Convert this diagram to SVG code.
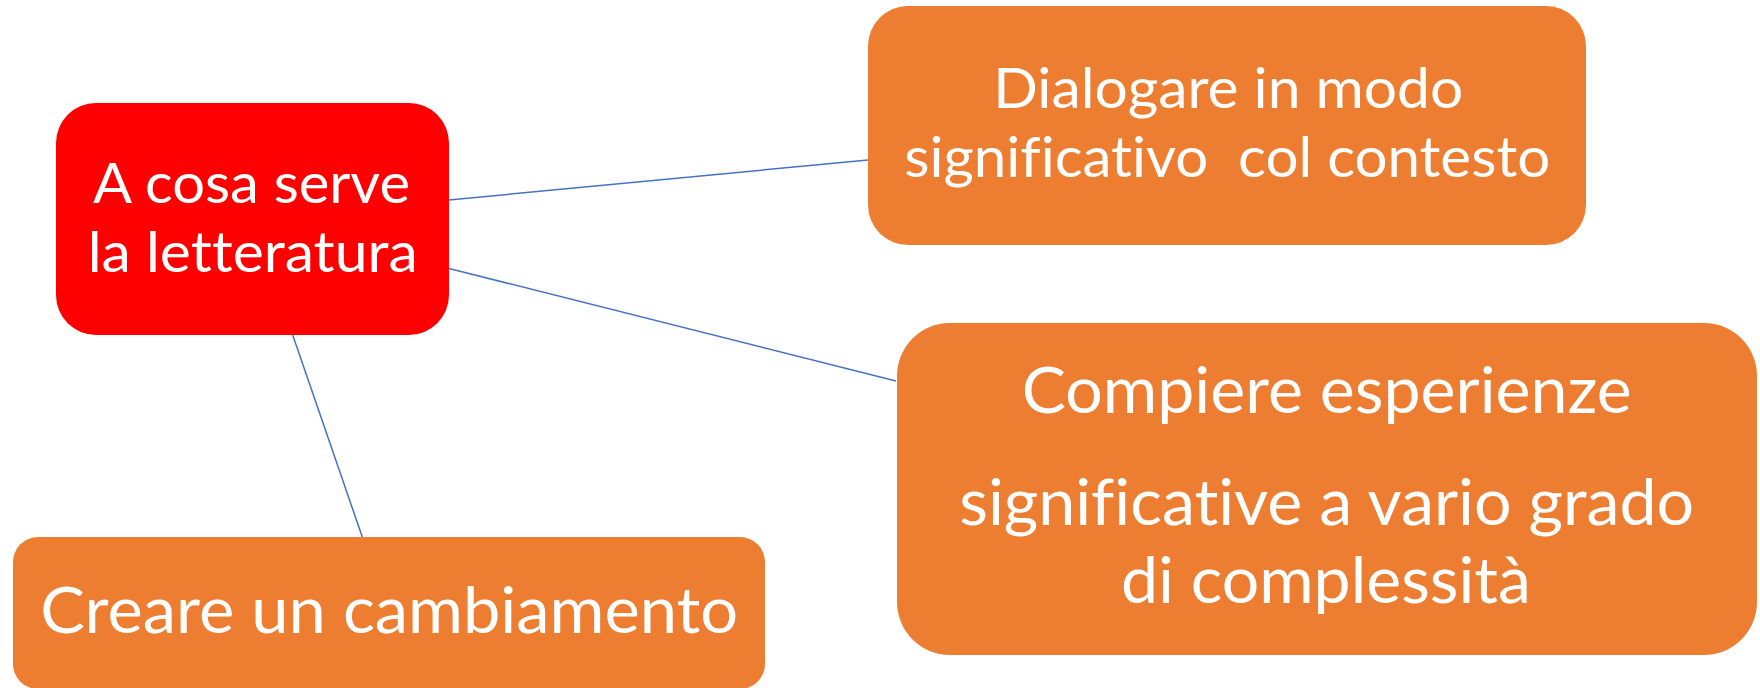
<svg xmlns="http://www.w3.org/2000/svg" width="1760" height="688" viewBox="0 0 1760 688">
  <style>
    .red { fill: #FF0000; }
    .orange { fill: #ED7D31; }
    .lbl { font-family: Lato, "Open Sans", "Liberation Sans", sans-serif; fill: #FFFFFF; text-anchor: middle; font-variant-ligatures: none; font-feature-settings: "liga" 0, "clig" 0; }
    .conn { stroke: #4472C4; stroke-width: 1.5; fill: none; }
  </style>
  <rect width="1760" height="688" fill="#FFFFFF"/>
  <g id="connectors">
    <line class="conn" x1="449" y1="200" x2="868" y2="160"/>
    <line class="conn" x1="449" y1="268.5" x2="896" y2="381"/>
    <line class="conn" x1="292.7" y1="335" x2="362.3" y2="537"/>
  </g>
  <g id="node-center">
    <rect class="red" x="56" y="103" width="393" height="232" rx="40" ry="40"/>
    <text class="lbl" font-size="57" x="251.5" y="202.7" textLength="317" lengthAdjust="spacingAndGlyphs">A cosa serve</text>
    <text class="lbl" font-size="57" x="252.7" y="271.7" textLength="330" lengthAdjust="spacingAndGlyphs">la letteratura</text>
  </g>
  <g id="node-dialogare">
    <rect class="orange" x="868" y="6" width="718" height="239" rx="40" ry="40"/>
    <text class="lbl" font-size="56" x="1228.3" y="108.3" textLength="470" lengthAdjust="spacingAndGlyphs">Dialogare in modo</text>
    <text class="lbl" font-size="56" x="1227.2" y="176.7" textLength="646" lengthAdjust="spacingAndGlyphs" xml:space="preserve">significativo  col contesto</text>
  </g>
  <g id="node-compiere">
    <rect class="orange" x="897" y="323" width="860" height="332" rx="53" ry="53"/>
    <text class="lbl" font-size="63" x="1326.7" y="413.3" textLength="610" lengthAdjust="spacingAndGlyphs">Compiere esperienze</text>
    <text class="lbl" font-size="63" x="1326.7" y="525" textLength="735" lengthAdjust="spacingAndGlyphs">significative a vario grado</text>
    <text class="lbl" font-size="63" x="1325.9" y="603.3" textLength="410" lengthAdjust="spacingAndGlyphs">di complessità</text>
  </g>
  <g id="node-creare">
    <rect class="orange" x="13" y="537" width="752" height="152" rx="25" ry="25"/>
    <text class="lbl" font-size="63" x="389.2" y="633.3" textLength="698" lengthAdjust="spacingAndGlyphs">Creare un cambiamento</text>
  </g>
</svg>
